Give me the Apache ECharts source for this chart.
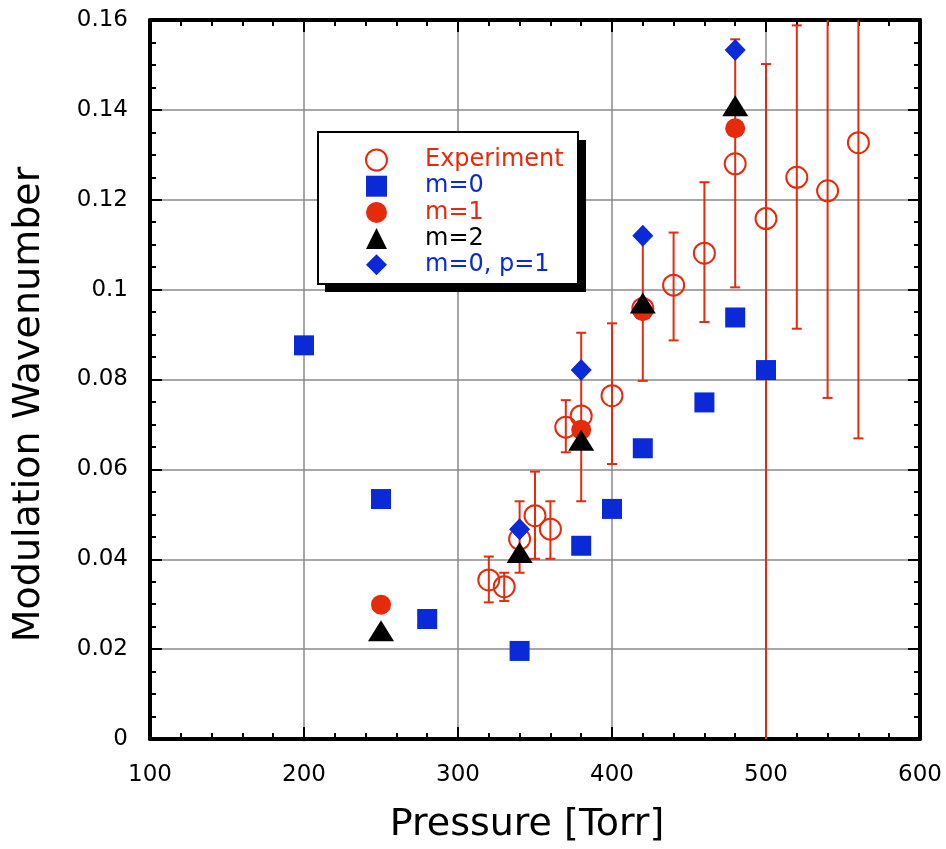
<!DOCTYPE html>
<html>
<head>
<meta charset="utf-8">
<script src="https://cdn.jsdelivr.net/npm/echarts@6/dist/echarts.min.js"></script>
<style>
html, body { margin: 0; padding: 0; background: #fff; }
#chart { width: 946px; height: 849px; }
</style>
</head>
<body>
<div id="chart"></div>
<script>
// experiment: pressure, wavenumber, error low, error high
var expX  = [320, 330, 340, 350, 360, 370, 380, 400, 420, 440, 460, 480, 500, 520, 540, 560];
var expY  = [0.0354, 0.0339, 0.0445, 0.0497, 0.0467, 0.0694, 0.0719, 0.0764, 0.0958, 0.1010, 0.1081, 0.1280, 0.1158, 0.1250, 0.1220, 0.1327];
var expLo = [0.0304, 0.0307, 0.0370, 0.0401, 0.0401, 0.0638, 0.0529, 0.0612, 0.0797, 0.0887, 0.0928, 0.1005, -0.01, 0.0913, 0.0759, 0.0669];
var expHi = [0.0406, 0.0370, 0.0529, 0.0595, 0.0529, 0.0754, 0.0904, 0.0925, 0.1120, 0.1127, 0.1239, 0.1557, 0.1502, 0.1588, 0.1700, 0.2000];

var m0 = [[200, 0.0876], [250, 0.0534], [280, 0.0267], [340, 0.0196], [380, 0.0430],
          [400, 0.0512], [420, 0.0647], [460, 0.0749], [480, 0.0938], [500, 0.0821]];
var m1 = [[250, 0.0299], [380, 0.0688], [420, 0.0952], [480, 0.1359]];
var m2 = [[250, 0.0241], [340, 0.0415], [380, 0.0665], [420, 0.0970], [480, 0.1409]];
var m0p1 = [[340, 0.0467], [380, 0.0821], [420, 0.1120], [480, 0.1533]];

var xTicks = { min: 100, max: 600, step: 100 };
var yTicks = { min: 0, max: 0.16, step: 0.02 };

var RED = '#e52b0c', BLUE = '#0a2ad8';
var FONT = 'DejaVu Sans';

var expData = expX.map(function (x, i) { return [x, expY[i], expLo[i], expHi[i]]; });

function renderErr(params, api) {
	var x = api.value(0);
	var pLo = api.coord([x, api.value(2)]);
	var pHi = api.coord([x, api.value(3)]);
	var cs = params.coordSys;
	var top = cs.y, bot = cs.y + cs.height;
	var st = { stroke: RED, lineWidth: 2 };
	var kids = [{
		type: 'line',
		shape: { x1: pLo[0], y1: Math.max(pHi[1], top), x2: pLo[0], y2: Math.min(pLo[1], bot) },
		style: st
	}];
	if (pHi[1] >= top) {
		kids.push({ type: 'line', shape: { x1: pHi[0] - 5, y1: pHi[1], x2: pHi[0] + 5, y2: pHi[1] }, style: st });
	}
	if (pLo[1] <= bot) {
		kids.push({ type: 'line', shape: { x1: pLo[0] - 5, y1: pLo[1], x2: pLo[0] + 5, y2: pLo[1] }, style: st });
	}
	return { type: 'group', children: kids };
}

var axisBase = {
	axisLine: { onZero: false, lineStyle: { color: '#000', width: 4 } },
	axisTick: { inside: true, length: 12, lineStyle: { color: '#000', width: 2 } },
	minorTick: { show: true, length: 6, lineStyle: { color: '#000', width: 2 } }
};

var myChart = echarts.init(document.getElementById('chart'));
var option = {
	animation: false,
	grid: { left: 150, right: 26, top: 20, bottom: 108 },
	// legend frame with drop shadow
	graphic: [
		{ type: 'rect', z: 5, shape: { x: 325, y: 140, width: 261, height: 152 }, style: { fill: '#000' } },
		{ type: 'rect', z: 6, shape: { x: 318, y: 132, width: 260, height: 152 }, style: { fill: '#fff', stroke: '#000', lineWidth: 2 } }
	],
	legend: {
		orient: 'vertical',
		left: 365,
		top: 148,
		z: 10,
		padding: 0,
		itemWidth: 21,
		itemHeight: 21,
		itemGap: 2.2,
		textStyle: { fontFamily: FONT, fontSize: 24, padding: [0, 0, 0, 33] },
		data: [
			{ name: 'Experiment', textStyle: { color: RED } },
			{ name: 'm=0', textStyle: { color: BLUE } },
			{ name: 'm=1', textStyle: { color: RED } },
			{ name: 'm=2', textStyle: { color: '#000' } },
			{ name: 'm=0, p=1', textStyle: { color: BLUE } }
		]
	},
	xAxis: [
		Object.assign({}, axisBase, {
			type: 'value', min: xTicks.min, max: xTicks.max, interval: xTicks.step,
			minorTick: Object.assign({}, axisBase.minorTick, { splitNumber: 5 }),
			name: 'Pressure [Torr]', nameLocation: 'middle', nameGap: 67,
			nameTextStyle: { fontFamily: FONT, fontSize: 38, color: '#000', padding: [0, 16, 0, 0] },
			axisLabel: { fontFamily: FONT, fontSize: 23, color: '#000', margin: 25 },
			splitLine: { show: true, lineStyle: { color: '#8a8a8a', width: 1.5 } }
		}),
		Object.assign({}, axisBase, {
			type: 'value', position: 'top', min: xTicks.min, max: xTicks.max, interval: xTicks.step,
			minorTick: Object.assign({}, axisBase.minorTick, { splitNumber: 5 }),
			axisLabel: { show: false }, splitLine: { show: false }
		})
	],
	yAxis: [
		Object.assign({}, axisBase, {
			type: 'value', min: yTicks.min, max: yTicks.max, interval: yTicks.step,
			minorTick: Object.assign({}, axisBase.minorTick, { splitNumber: 4 }),
			name: 'Modulation Wavenumber', nameLocation: 'middle', nameGap: 102,
			nameTextStyle: { fontFamily: FONT, fontSize: 38, color: '#000', padding: [0, 50, 0, 0] },
			axisLabel: { fontFamily: FONT, fontSize: 23, color: '#000', margin: 22 },
			splitLine: { show: true, lineStyle: { color: '#8a8a8a', width: 1.5 } }
		}),
		Object.assign({}, axisBase, {
			type: 'value', position: 'right', min: yTicks.min, max: yTicks.max, interval: yTicks.step,
			minorTick: Object.assign({}, axisBase.minorTick, { splitNumber: 4 }),
			axisLabel: { show: false }, splitLine: { show: false }
		})
	],
	series: [
		{
			name: 'err', type: 'custom', renderItem: renderErr,
			encode: { x: 0, y: [2, 3] }, data: expData, z: 2
		},
		{
			name: 'Experiment', type: 'scatter', symbol: 'circle', symbolSize: 21,
			itemStyle: { color: 'rgba(255,255,255,0)', borderColor: RED, borderWidth: 2, opacity: 1 },
			data: expData, z: 3
		},
		{
			name: 'm=0', type: 'scatter', symbol: 'rect', symbolSize: 20,
			itemStyle: { color: BLUE, opacity: 1 }, data: m0, z: 4
		},
		{
			name: 'm=1', type: 'scatter', symbol: 'circle', symbolSize: 20,
			itemStyle: { color: RED, opacity: 1 }, data: m1, z: 5
		},
		{
			name: 'm=2', type: 'scatter', symbol: 'triangle', symbolSize: [26, 21],
			itemStyle: { color: '#000', opacity: 1 }, data: m2, z: 6
		},
		{
			name: 'm=0, p=1', type: 'scatter', symbol: 'diamond', symbolSize: [21, 22],
			itemStyle: { color: BLUE, opacity: 1 }, data: m0p1, z: 7
		}
	]
};
myChart.setOption(option);
</script>
</body>
</html>
